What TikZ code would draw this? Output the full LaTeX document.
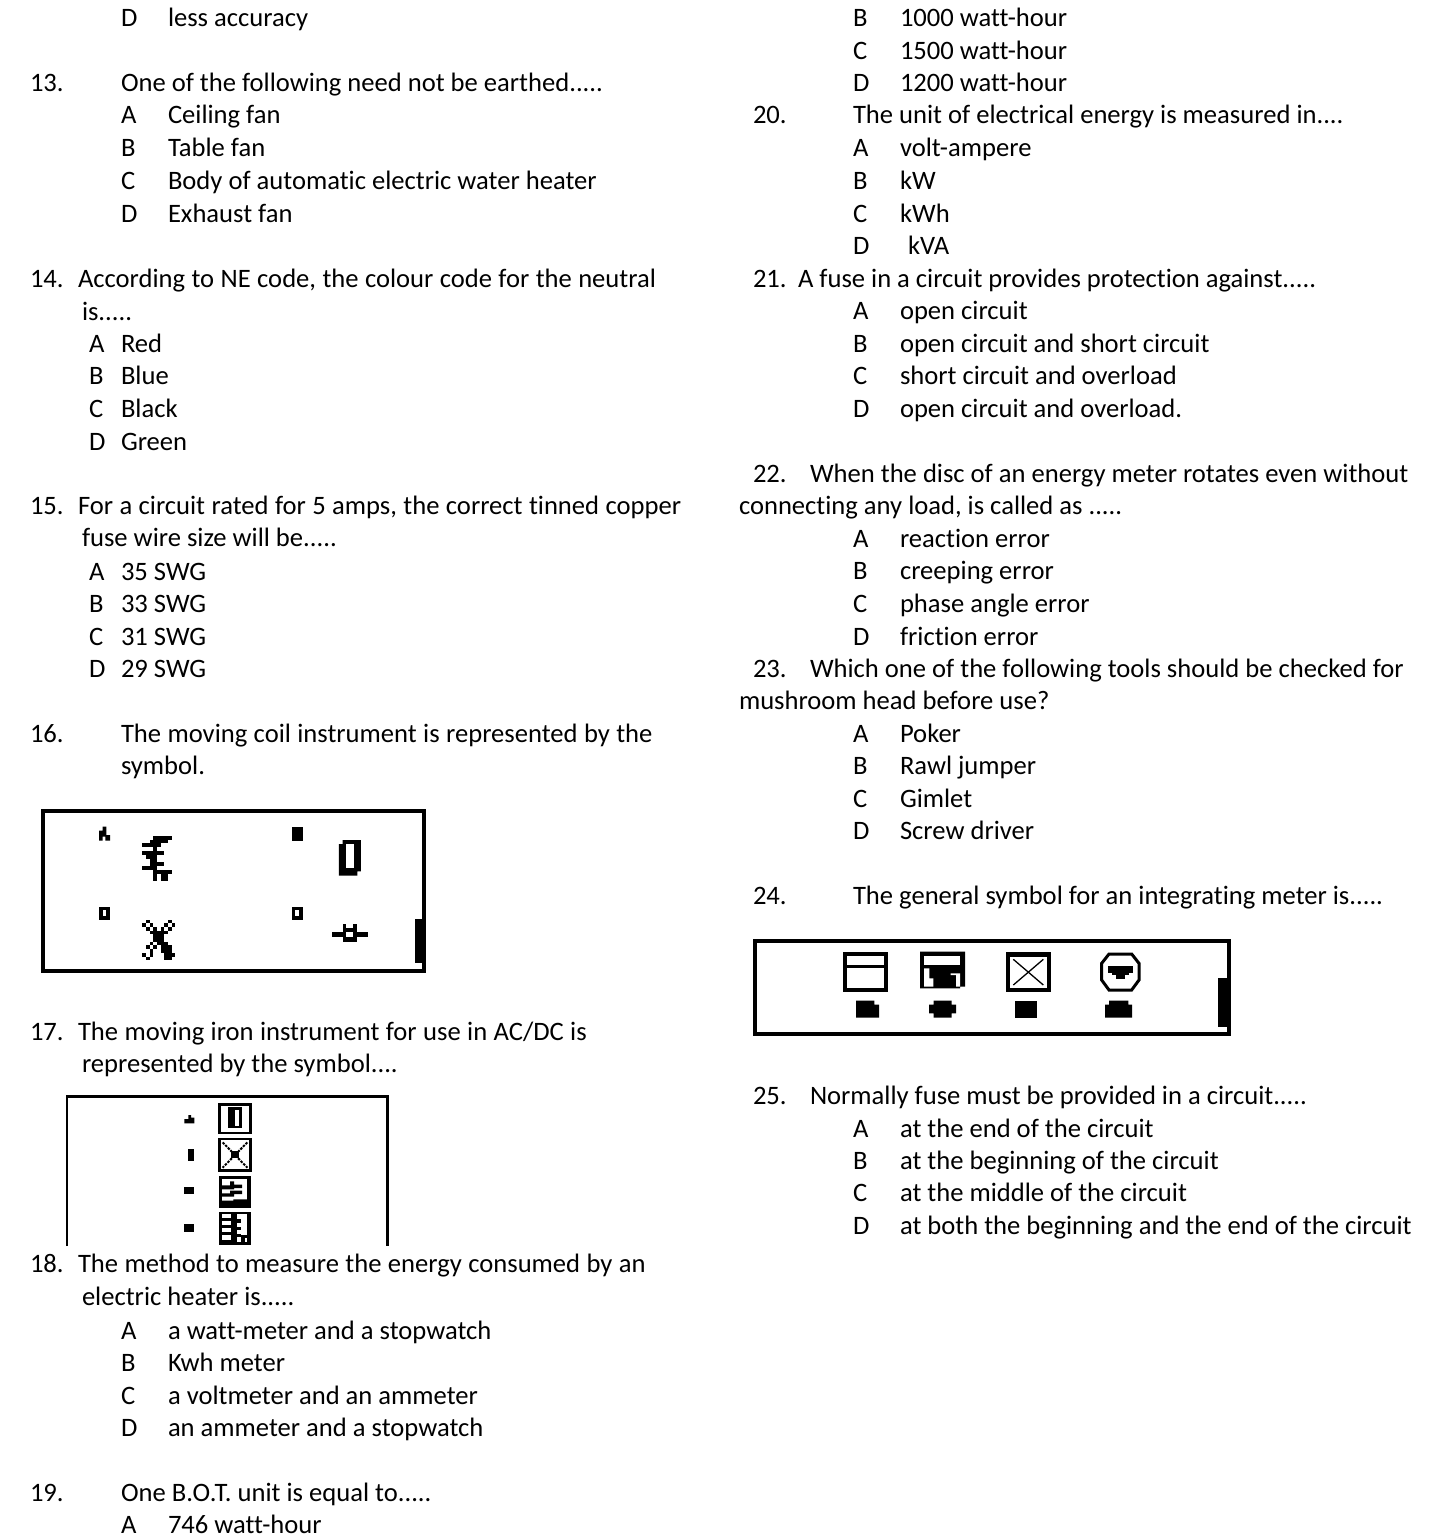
\documentclass[tikz,border=0pt]{standalone}
\usepackage{fontspec}
\setmainfont{Carlito}[Ligatures=CommonOff]
\newcounter{tcnt}
\newcommand{\tl}[3]{\stepcounter{tcnt}\node[txt,name=t\arabic{tcnt}] at (#1,#2+9) {#3};}
\newcommand{\wl}[3]{\stepcounter{tcnt}\node[txt,name=t\arabic{tcnt}] at (#1,#2+9) {\spaceskip=6.4pt plus 0pt minus 0pt\relax #3};}
\begin{document}
\begin{tikzpicture}[x=1pt,y=-1pt,
  txt/.style={anchor=base west,inner sep=0pt,outer sep=0pt,font=\fontsize{26.6pt}{30pt}\selectfont},
  zoomed/.style={x=0.33333pt,y=-0.33333pt},
  blk/.style={fill=black,draw=none},
  wht/.style={fill=white,draw=none},
  frame/.style={draw=black,line width=2pt,fill=none}]
\useasboundingbox (0,0) rectangle (1428,1536);
% left column
\tl{121}{18}{D}\tl{168}{18}{less accuracy}
\tl{30}{83}{13.}\tl{121}{83}{One of the following need not be earthed.....}
\tl{121}{115}{A}\tl{168}{115}{Ceiling fan}
\tl{121}{148}{B}\tl{168}{148}{Table fan}
\tl{121}{180}{C}\tl{168}{180}{Body of automatic electric water heater}
\tl{121}{213}{D}\tl{168}{213}{Exhaust fan}
\tl{30}{278}{14.}\wl{78}{278}{According to NE code, the colour code for the neutral}
\tl{82}{311}{is.....}
\tl{89}{343}{A}\tl{121}{343}{Red}
\tl{89}{375}{B}\tl{121}{375}{Blue}
\tl{89}{408}{C}\tl{121}{408}{Black}
\tl{89}{441}{D}\tl{121}{441}{Green}
\tl{30}{505}{15.}\wl{78}{505}{For a circuit rated for 5 amps, the correct tinned copper}
\tl{82}{537}{fuse wire size will be.....}
\tl{89}{571}{A}\tl{121}{571}{35 SWG}
\tl{89}{603}{B}\tl{121}{603}{33 SWG}
\tl{89}{636}{C}\tl{121}{636}{31 SWG}
\tl{89}{668}{D}\tl{121}{668}{29 SWG}
\tl{30}{733}{16.}\wl{121}{733}{The moving coil instrument is represented by the}
\tl{121}{765}{symbol.}
\tl{30}{1031}{17.}\wl{78}{1031}{The moving iron instrument for use in AC/DC is}
\tl{82}{1063}{represented by the symbol....}
\tl{30}{1263}{18.}\wl{78}{1263}{The method to measure the energy consumed by an}
\tl{82}{1296}{electric heater is.....}
\tl{121}{1330}{A}\tl{168}{1330}{a watt-meter and a stopwatch}
\tl{121}{1362}{B}\tl{168}{1362}{Kwh meter}
\tl{121}{1395}{C}\tl{168}{1395}{a voltmeter and an ammeter}
\tl{121}{1427}{D}\tl{168}{1427}{an ammeter and a stopwatch}
\tl{30}{1492}{19.}\tl{121}{1492}{One B.O.T. unit is equal to.....}
\tl{121}{1524}{A}\tl{168}{1524}{746 watt-hour}
% right column
\tl{853}{18}{B}\tl{900}{18}{1000 watt-hour}
\tl{853}{51}{C}\tl{900}{51}{1500 watt-hour}
\tl{853}{83}{D}\tl{900}{83}{1200 watt-hour}
\tl{753}{115}{20.}\tl{853}{115}{The unit of electrical energy is measured in....}
\tl{853}{148}{A}\tl{900}{148}{volt-ampere}
\tl{853}{180}{B}\tl{900}{180}{kW}
\tl{853}{213}{C}\tl{900}{213}{kWh}
\tl{853}{245}{D}\tl{908}{245}{kVA}
\tl{753}{278}{21.}\tl{798}{278}{A fuse in a circuit provides protection against.....}
\tl{853}{310}{A}\tl{900}{310}{open circuit}
\tl{853}{343}{B}\tl{900}{343}{open circuit and short circuit}
\tl{853}{375}{C}\tl{900}{375}{short circuit and overload}
\tl{853}{408}{D}\tl{900}{408}{open circuit and overload.}
\tl{753}{473}{22.}\tl{810}{473}{When the disc of an energy meter rotates even without}
\tl{739}{505}{connecting any load, is called as .....}
\tl{853}{538}{A}\tl{900}{538}{reaction error}
\tl{853}{570}{B}\tl{900}{570}{creeping error}
\tl{853}{603}{C}\tl{900}{603}{phase angle error}
\tl{853}{636}{D}\tl{900}{636}{friction error}
\tl{753}{668}{23.}\tl{810}{668}{Which one of the following tools should be checked for}
\tl{739}{700}{mushroom head before use?}
\tl{853}{733}{A}\tl{900}{733}{Poker}
\tl{853}{765}{B}\tl{900}{765}{Rawl jumper}
\tl{853}{798}{C}\tl{900}{798}{Gimlet}
\tl{853}{830}{D}\tl{900}{830}{Screw driver}
\tl{753}{895}{24.}\tl{853}{895}{The general symbol for an integrating meter is.....}
\tl{753}{1095}{25.}\tl{810}{1095}{Normally fuse must be provided in a circuit.....}
\tl{853}{1128}{A}\tl{900}{1128}{at the end of the circuit}
\tl{853}{1160}{B}\tl{900}{1160}{at the beginning of the circuit}
\tl{853}{1192}{C}\tl{900}{1192}{at the middle of the circuit}
\tl{853}{1225}{D}\tl{900}{1225}{at both the beginning and the end of the circuit}
% box 16
\begin{scope}[xshift=30pt,yshift=-800pt,zoomed]
\draw[draw=black,line width=4pt] (39,34) rectangle (1182,512);
\fill[blk] (1155,358) rectangle (1177,490);
\fill[blk] (207,122) -- (207,92) -- (218,92) -- (218,80) -- (229,80) -- (229,105) -- (240,105) -- (240,122) -- (226,122) -- (226,110) -- (218,110) -- (218,122) -- cycle;
\fill[blk] (785,82) rectangle (818,122);
\foreach \qx in {207,785}{
 \fill[blk] (\qx,320) rectangle (\qx+33,360);
 \fill[wht] (\qx+11,331) rectangle (\qx+22,349);}
% E-shaped glyph
\fill[blk] (370,108) rectangle (425,119);
\fill[blk] (359,119) rectangle (414,130);
\fill[blk] (337,130) rectangle (392,142);
\fill[blk] (370,142) rectangle (381,154);
\fill[blk] (337,154) rectangle (403,165);
\fill[blk] (348,165) rectangle (381,176);
\fill[blk] (359,176) rectangle (381,187);
\fill[blk] (359,187) rectangle (403,199);
\fill[blk] (370,199) rectangle (381,210);
\fill[blk] (337,199) rectangle (370,210);
\fill[blk] (370,210) rectangle (425,221);
\fill[blk] (370,221) rectangle (381,242);
\fill[blk] (392,221) rectangle (414,242);
% 0 glyph
\fill[blk] (927,132) -- (938,132) -- (938,120) -- (993,120) -- (993,214) -- (982,214) -- (982,227) -- (927,227) -- cycle;
\fill[wht] (949,132) rectangle (971,205);
% X glyph
\foreach \ax/\ay in {348/359,337/370,359/370,348/381,370/381,359/392,
  414/359,403/370,425/370,392/381,414/381,403/392,
  370/392,381/392,392/392,370/403,381/403,392/403,370/414,381/414,392/414,
  359/425,381/425,370/436,348/436,359/448,337/459,359/459,348/470,
  392/425,403/425,392/436,403/436,414/436,392/448,403/448,414/448,403/459,414/459,425/459,403/470,414/470}
  {\fill[blk] (\ax,\ay) rectangle (\ax+11,\ay+11);}
% plug glyph
\fill[blk] (905,397) rectangle (1013,412);
\fill[blk] (938,385) rectangle (980,425);
\fill[wht] (949,397) rectangle (970,412);
\fill[blk] (938,372) rectangle (949,385);
\fill[blk] (970,372) rectangle (980,385);
\end{scope}
% box 17
\begin{scope}[xshift=60pt,yshift=-1085pt,zoomed]
\draw[draw=black,line width=2.4pt] (21,483) -- (21,34) -- (982,34) -- (982,483);
\fill[blk] (373,115) -- (373,102) -- (385,102) -- (385,90) -- (393,90) -- (393,98) -- (403,98) -- (403,115) -- cycle;
\fill[blk] (383,192) rectangle (401,228);
\fill[blk] (373,305) rectangle (401,328);
\fill[blk] (373,417) rectangle (401,440);
\foreach \fy/\fh in {55/93,158/102}
  {\draw[draw=black,line width=2.6pt] (479,\fy+4) rectangle (571,\fy+\fh-4);}
\fill[blk] (505,65) rectangle (545,130);
\fill[wht] (525,76) rectangle (537,122);
\draw[black,line width=2pt,dash pattern=on 2.5pt off 1.2pt] (488,172) -- (562,248);
\draw[black,line width=2pt,dash pattern=on 2.5pt off 1.2pt] (562,172) -- (488,248);
\fill[blk] (512,197) rectangle (538,218);
\end{scope}
% framed glyphs three and four of box 17
\begin{scope}[xshift=210pt,yshift=-1170pt,zoomed]
\fill[blk] (26,18) rectangle (122,115);
\fill[wht] (36,28) rectangle (112,105);
\fill[blk] (36,46) -- (60,46) -- (60,34) -- (72,34) -- (72,44) -- (96,44) -- (96,54) -- (72,54) -- (72,58) -- (36,58) -- cycle;
\fill[blk] (36,70) -- (60,70) -- (60,62) -- (96,62) -- (96,72) -- (72,72) -- (72,80) -- (36,80) -- cycle;
\fill[blk] (36,92) -- (70,92) -- (70,88) -- (112,88) -- (112,105) -- (36,105) -- cycle;
\fill[blk] (26,125) rectangle (122,226);
\fill[wht] (36,133) rectangle (62,145);
\fill[wht] (36,153) rectangle (62,164);
\fill[wht] (36,174) rectangle (62,186);
\fill[wht] (36,196) rectangle (62,210);
\fill[wht] (80,133) rectangle (112,148);
\fill[wht] (92,148) rectangle (112,195);
\fill[wht] (80,158) rectangle (112,170);
\fill[wht] (80,180) rectangle (112,192);
\fill[wht] (80,202) rectangle (92,215);
\fill[wht] (104,205) rectangle (112,215);
\end{scope}
% box 24
\begin{scope}[xshift=745pt,yshift=-930pt,zoomed]
\draw[draw=black,line width=4pt] (31,34) rectangle (1452,312);
\fill[blk] (1419,145) rectangle (1447,290);
\draw[frame,line width=3.2pt] (300,72) rectangle (423,180);
\fill[blk] (300,105) rectangle (423,115);
\fill[blk] (333,212) -- (388,212) -- (388,224) -- (402,224) -- (402,263) -- (333,263) -- cycle;
\fill[blk] (552,224) -- (566,224) -- (566,212) -- (620,212) -- (620,224) -- (633,224) -- (633,250) -- (620,250) -- (620,263) -- (566,263) -- (566,250) -- (552,250) -- cycle;
\fill[blk] (783,67) rectangle (917,185);
\fill[wht] (795,82) rectangle (905,175);
\draw[black,line width=1.3pt] (805,88) -- (895,165);
\draw[black,line width=1.3pt] (895,88) -- (805,165);
\fill[blk] (810,212) rectangle (876,263);
\draw[frame,line width=3pt] (1092,72) -- (1160,72) -- (1182,100) -- (1182,150) -- (1160,180) -- (1092,180) -- (1070,150) -- (1070,100) -- cycle;
\fill[blk] (1090,107) rectangle (1163,130);
\fill[blk] (1100,130) rectangle (1152,135);
\fill[blk] (1112,135) rectangle (1140,147);
\fill[blk] (1080,263) -- (1080,224) -- (1092,224) -- (1092,212) -- (1150,212) -- (1150,224) -- (1161,224) -- (1161,263) -- cycle;
\end{scope}
% second framed glyph of box 24
\begin{scope}[xshift=910pt,yshift=-945pt,zoomed]
\fill[blk] (30,20) -- (165,20) -- (165,125) -- (150,125) -- (150,130) -- (30,130) -- cycle;
\fill[wht] (42,33) rectangle (150,60);
\fill[wht] (42,70) -- (58,70) -- (58,100) -- (70,100) -- (70,125) -- (42,125) -- cycle;
\fill[wht] (122,85) -- (150,85) -- (150,125) -- (138,125) -- (138,90) -- (122,90) -- cycle;
\end{scope}
\end{tikzpicture}
\end{document}
